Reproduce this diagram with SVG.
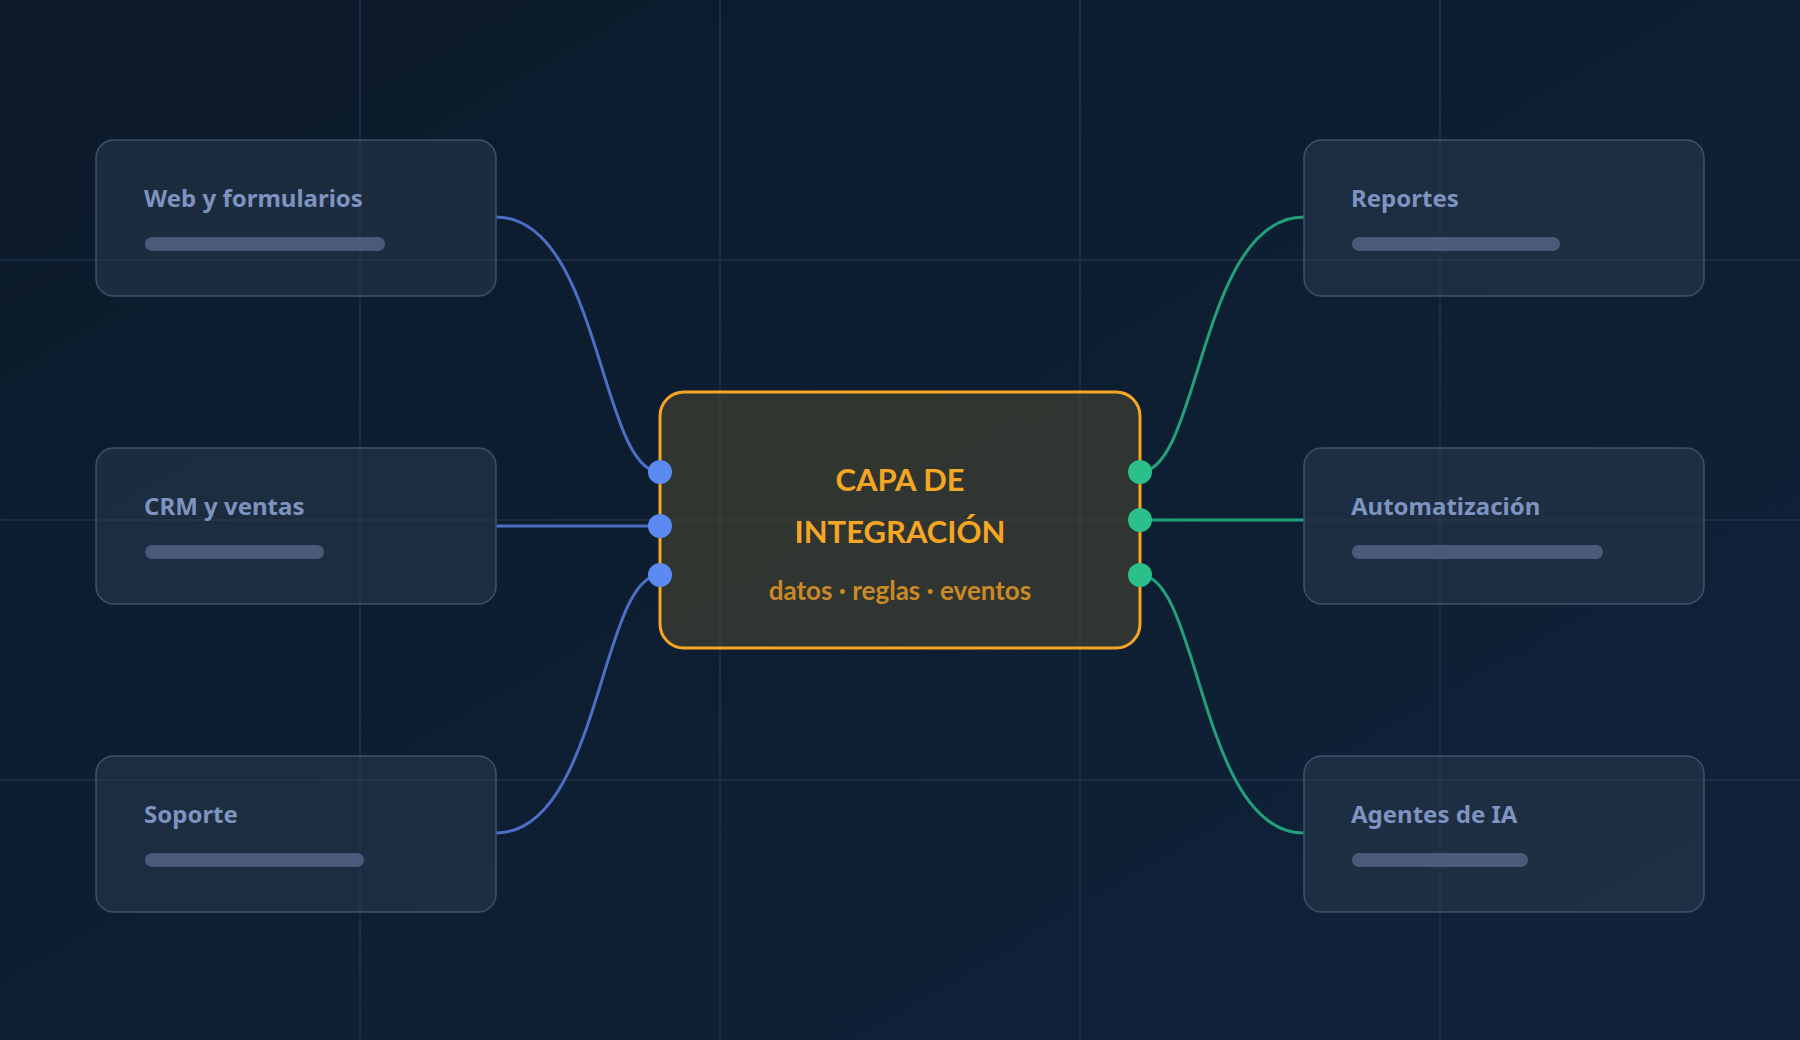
<svg xmlns="http://www.w3.org/2000/svg" width="1800" height="1040" viewBox="0 0 1800 1040">
<defs>
<linearGradient id="bg" x1="0" y1="0" x2="1" y2="1"><stop offset="0" stop-color="#0c1a2a"/><stop offset="1" stop-color="#10233a"/></linearGradient>
<style>
.box{fill:#2a3a4e;fill-opacity:0.55;stroke:#3f506a;stroke-width:1.5}
.lbl{font-family:"Noto Sans",Lato,sans-serif;font-weight:700;font-size:24px;fill:#7e93bf}
.bar{fill:#4a5b7a}
.grid{stroke:#2a3b52;stroke-width:1}
.cb{fill:none;stroke:#4a6fc4;stroke-width:3}
.cg{fill:none;stroke:#22a07c;stroke-width:3}
.db{fill:#5b8af0}
.dg{fill:#2bbf8a}
</style>
</defs>
<rect width="1800" height="1040" fill="url(#bg)"/>
<g id="grid">
<line class="grid" x1="360" y1="0" x2="360" y2="1040"/>
<line class="grid" x1="720" y1="0" x2="720" y2="1040"/>
<line class="grid" x1="1080" y1="0" x2="1080" y2="1040"/>
<line class="grid" x1="1440" y1="0" x2="1440" y2="1040"/>
<line class="grid" x1="0" y1="260" x2="1800" y2="260"/>
<line class="grid" x1="0" y1="520" x2="1800" y2="520"/>
<line class="grid" x1="0" y1="780" x2="1800" y2="780"/>
</g>
<g id="connectors">
<path class="cb" d="M496 217 C600 217 600 472 660 472"/>
<path class="cb" d="M496 526 L660 526"/>
<path class="cb" d="M496 833 C600 833 600 575 660 575"/>
<path class="cg" d="M1304 217 C1200 217 1200 472 1140 472"/>
<path class="cg" d="M1304 520 L1140 520"/>
<path class="cg" d="M1304 833 C1200 833 1200 575 1140 575"/>
</g>
<g id="web"><rect class="box" x="96" y="140" width="400" height="156" rx="18"/><text class="lbl" x="144" y="207">Web y formularios</text><rect class="bar" x="145" y="237" width="240" height="14" rx="7"/></g>
<g id="crm"><rect class="box" x="96" y="448" width="400" height="156" rx="18"/><text class="lbl" x="144" y="515">CRM y ventas</text><rect class="bar" x="145" y="545" width="179" height="14" rx="7"/></g>
<g id="soporte"><rect class="box" x="96" y="756" width="400" height="156" rx="18"/><text class="lbl" x="144" y="823">Soporte</text><rect class="bar" x="145" y="853" width="219" height="14" rx="7"/></g>
<g id="reportes"><rect class="box" x="1304" y="140" width="400" height="156" rx="18"/><text class="lbl" x="1351" y="207">Reportes</text><rect class="bar" x="1352" y="237" width="208" height="14" rx="7"/></g>
<g id="automatizacion"><rect class="box" x="1304" y="448" width="400" height="156" rx="18"/><text class="lbl" x="1351" y="515">Automatización</text><rect class="bar" x="1352" y="545" width="251" height="14" rx="7"/></g>
<g id="agentes"><rect class="box" x="1304" y="756" width="400" height="156" rx="18"/><text class="lbl" x="1351" y="823">Agentes de IA</text><rect class="bar" x="1352" y="853" width="176" height="14" rx="7"/></g>
<g id="capa">
<rect x="660" y="392" width="480" height="256" rx="24" fill="#4a4530" fill-opacity="0.6" stroke="#f5a623" stroke-width="3"/>
<text x="900" y="491" text-anchor="middle" font-family="Lato,'Noto Sans',sans-serif" font-weight="700" font-size="31" fill="#f5a623">CAPA DE</text>
<text x="900" y="543" text-anchor="middle" font-family="Lato,'Noto Sans',sans-serif" font-weight="700" font-size="31" fill="#f5a623">INTEGRACIÓN</text>
<text x="900" y="600" text-anchor="middle" font-family="Lato,'Noto Sans',sans-serif" font-weight="700" font-size="26" fill="#c98a26">datos · reglas · eventos</text>
</g>
<g id="ports">
<circle class="db" cx="660" cy="472" r="12"/><circle class="db" cx="660" cy="526" r="12"/><circle class="db" cx="660" cy="575" r="12"/>
<circle class="dg" cx="1140" cy="472" r="12"/><circle class="dg" cx="1140" cy="520" r="12"/><circle class="dg" cx="1140" cy="575" r="12"/>
</g>
</svg>
